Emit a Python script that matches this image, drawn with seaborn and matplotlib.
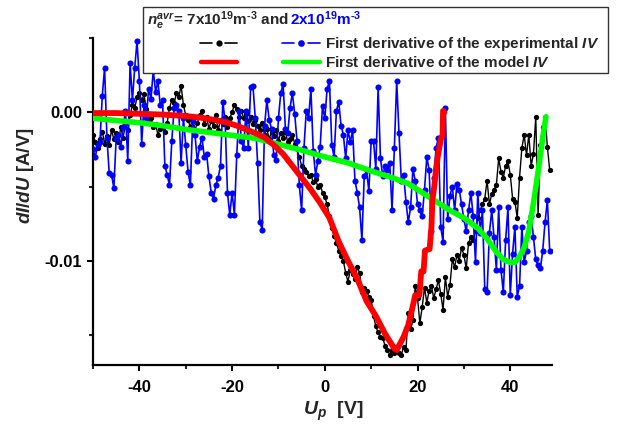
import numpy as np
import pandas as pd
import matplotlib
matplotlib.use("Agg")
import matplotlib.pyplot as plt
import seaborn as sns
from matplotlib.lines import Line2D
from matplotlib.patches import Rectangle
from matplotlib.ticker import MultipleLocator, FormatStrFormatter

# Probe voltage sweep of the measured characteristics [V]
U_exp = np.arange(-50.0, 48.75, 0.5)

# Measured first derivative, n_e = 7e19 m^-3 (units of 1e-4 A/V)
didu_black = [
    -15, -20, -24, -18, -13, -21, -16, -22, -12, -18,
    -14, -20, -10, -17, -8, -12, -2, 5, 3, 10,
    13, 8, 12, 2, -6, -4, -10, -8, -15, -11,
    -9, -13, -7, 3, 8, 6, 13, 10, 18, 5,
    -2, -5, -10, -4, -12, -7, -2, 1, -8, -3,
    -11, -6, -9, -2, -12, -5, -8, -3, -10, -4,
    0, 5, 2, -3, 1, -4, -1, -6, -3, -8,
    -5, -9, -12, -7, -15, -11, -18, -13, -16, -12,
    -19, -14, -17, -13, -20, -18, -15, -21, -25, -30,
    -36, -38, -40, -43, -42, -47, -45, -50, -49, -54,
    -57, -62, -70, -78, -83, -88, -93, -97, -100, -108,
    -114, -106, -109, -112, -104, -108, -121, -118, -120, -124,
    -126, -137, -144, -148, -151, -152, -157, -160, -163, -160,
    -162, -158, -162, -163, -158, -160, -135, -146, -140, -117,
    -125, -142, -131, -118, -128, -120, -117, -125, -119, -113,
    -122, -133, -111, -124, -116, -99, -104, -96, -100, -91,
    -96, -105, -88, -84, -86, -80, -71, -66, -62, -58,
    -46, -62, -55, -52, -49, -31, -40, -44, -36, -33,
    -42, -58, -60, -71, -44, -24, -15, -29, -15, -36,
    -28, -3, -69, -22, -10, -3, -23, -39,
]

# Measured first derivative, n_e = 2e19 m^-3 (units of 1e-4 A/V)
didu_blue = [
    -25, -30, -22, -20, 11, 30, -17, -41, -42, -51,
    -17, -15, -23, -10, 1, -33, 33, 8, 30, 48,
    21, -21, 5, -4, 16, 9, 28, 14, 21, 5,
    8, -36, -42, -49, -19, 3, 5, 1, -34, -4,
    -22, -40, -49, -6, -15, -33, -23, -17, -30, -28,
    -43, -54, -58, -49, -44, -36, 7, -6, -54, -69,
    -54, -69, -29, 1, -19, -24, 1, -24, 17, 18,
    -4, -34, -74, -79, -9, 8, -5, -11, -29, -32,
    -4, 13, 19, -11, -14, 3, 13, -1, -19, -49,
    -66, -24, 1, -4, 16, -26, -42, -33, -23, 4,
    -4, 16, 21, -22, -30, 1, 7, -9, -15, -31,
    -12, -20, -12, -46, -54, -64, -86, -43, -39, -53,
    -19, -19, -38, 17, -31, -43, -36, -39, -34, -66,
    -24, 21, -14, -46, -42, -60, -74, -64, -38, -46,
    -62, -66, -70, -52, -30, -39, -80, -44, -24, -17,
    -77, -87, 3, -72, -56, -50, -66, -48, -52, -62,
    -72, -80, -66, -54, -70, -101, -54, -81, -66, -119,
    -121, -81, -66, -84, -106, -64, -106, -121, -86, -64,
    -123, -95, -77, -124, -117, -77, -101, -93, -74, -70,
    -84, -99, -103, -105, -93, -74, -59, -93,
]

# Model derivative for n_e = 7e19 m^-3
U_red = [-50, -45, -40, -35, -30, -27, -24, -21, -19, -17, -15, -13, -11, -9,
         -7, -5, -3, -1, 1, 3, 5, 7, 9, 11, 13, 14, 15, 15.5, 16, 17, 18, 19,
         19.5, 20.4, 20.8, 21.3, 21.6, 22.6, 23.0, 23.2, 23.6, 24.0, 24.4,
         25.1, 25.4, 25.5, 25.8]
didu_red = [-0.5, -0.5, -1, -1.5, -2.5, -3.5, -5, -7, -9, -11.5, -14, -17, -22,
            -28, -36, -44, -52, -61, -71, -87, -100, -112, -127, -137, -149,
            -154, -159, -160, -157, -151, -143, -130, -123, -123, -107, -107,
            -93, -92, -77, -59, -50, -38, -29, -17, -16, 1, 0]

# Model derivative for n_e = 2e19 m^-3
U_green = [-50, -45, -40, -35, -30, -25, -20, -15, -10, -5, 0, 5, 10, 15, 18,
           21, 24, 27, 30, 33, 35, 37, 38.5, 40, 41, 42, 43, 44, 45, 46, 47,
           47.7]
didu_green = [-4, -5.5, -7, -9, -11.5, -13.5, -15.5, -17.5, -21.5, -25.5, -30,
              -34, -39.5, -44.5, -48, -54, -60, -66, -71, -78, -85, -94, -99,
              -101, -101, -97, -91, -80, -61, -40, -17, -3]

SCALE = 1e-4  # list units -> A/V
exp_black = pd.DataFrame({"U": U_exp, "dIdU": np.array(didu_black) * SCALE})
exp_blue = pd.DataFrame({"U": U_exp, "dIdU": np.array(didu_blue) * SCALE})
mod_red = pd.DataFrame({"U": U_red, "dIdU": np.array(didu_red) * SCALE})
mod_green = pd.DataFrame({"U": U_green, "dIdU": np.array(didu_green) * SCALE})

sns.set_theme(style="ticks")
plt.rcParams.update({
    "font.family": ["Liberation Sans", "DejaVu Sans"],
    "font.weight": "bold",
    "mathtext.fontset": "custom",
    "mathtext.rm": "Liberation Sans:bold",
    "mathtext.it": "Liberation Sans:italic:bold",
    "mathtext.bf": "Liberation Sans:bold",
    "axes.unicode_minus": False,
})

W, H = 625, 428
fig = plt.figure(figsize=(W / 100, H / 100), dpi=100)
ax = fig.add_axes([93 / W, 63 / H, (552 - 93) / W, (365 - 38) / H])

common = dict(ax=ax, x="U", y="dIdU", estimator=None, sort=False, legend=False)
sns.lineplot(data=exp_black, color="black", linewidth=1.0, marker="o",
             markersize=3.8, markeredgewidth=0, zorder=2, **common)
sns.lineplot(data=exp_blue, color="#0000ff", linewidth=1.2, marker="o",
             markersize=4.4, markeredgewidth=0, zorder=3, **common)
sns.lineplot(data=mod_green, color="#00ff00", linewidth=4.0, zorder=4, **common)
sns.lineplot(data=mod_red, color="#ff0000", linewidth=4.2, zorder=5, **common)

ax.set_xlim(-50, 49)
ax.set_ylim(-0.017, 0.005)
ax.xaxis.set_major_locator(MultipleLocator(20))
ax.xaxis.set_minor_locator(MultipleLocator(10))
ax.yaxis.set_major_locator(MultipleLocator(0.01))
ax.yaxis.set_minor_locator(MultipleLocator(0.005))
ax.yaxis.set_major_formatter(FormatStrFormatter("%.2f"))

for side in ("top", "right"):
    ax.spines[side].set_visible(False)
for side in ("left", "bottom"):
    ax.spines[side].set_linewidth(1.6)
    ax.spines[side].set_color("black")
ax.tick_params(which="major", direction="out", length=4, width=1.5,
               labelsize=12, colors="black")
ax.tick_params(axis="x", which="major", pad=7)
ax.tick_params(axis="y", which="major", pad=4)
ax.tick_params(which="minor", direction="out", length=3, width=1.5)
ax.set_facecolor("white")

ax.set_xlabel(r"$U_p$  [V]", fontsize=14, fontweight="bold")
ax.set_ylabel(r"$dI/dU$ [A/V]", fontsize=13.5, fontweight="bold")
ax.xaxis.set_label_coords(0.523, -0.105)
ax.yaxis.set_label_coords(-0.124, 0.578)


def fx(px):
    return px / W


def fy(py):
    return 1 - py / H


# Legend panel
fig.add_artist(Rectangle((fx(143), fy(73)), fx(608) - fx(143), (73 - 7) / H,
                         transform=fig.transFigure, facecolor="white",
                         edgecolor="#333333", linewidth=1.0, zorder=10))

t1 = fig.text(fx(147), fy(25.5), r"$n_e^{avr}$= 7x10$^{19}$m$^{\text{-}3}$ and ",
              fontsize=11, fontweight="bold", va="baseline", ha="left",
              zorder=11)
fig.canvas.draw()
bb = t1.get_window_extent()
fig.text(bb.x1 / fig.bbox.width, fy(25.5), r"2x10$^{19}$m$^{\text{-}3}$",
         color="#0000ff", fontsize=11, fontweight="bold", va="baseline",
         ha="left", zorder=11)


def glyph(xs, y, **kw):
    fig.add_artist(Line2D([fx(x) for x in xs], [fy(y)] * len(xs),
                          transform=fig.transFigure, zorder=11, **kw))


# row 1: measured series
glyph([200, 212], 43, color="black", lw=1.2)
glyph([225, 237], 43, color="black", lw=1.2)
glyph([218.5], 43, color="black", marker="o", markersize=4.5, lw=0,
      markeredgewidth=0)
glyph([282, 294], 43, color="#0000ff", lw=1.2)
glyph([308, 320], 43, color="#0000ff", lw=1.2)
glyph([301], 43, color="#0000ff", marker="o", markersize=4.8, lw=0,
      markeredgewidth=0)
# row 2: model curves
glyph([201, 237], 62, color="#ff0000", lw=3.2)
glyph([283, 320], 62, color="#00ff00", lw=3.2)

fig.text(fx(325), fy(47.7), r"First derivative of the experimental $IV$",
         fontsize=11, fontweight="bold", va="baseline", ha="left", zorder=11)
fig.text(fx(325), fy(66.7), r"First derivative of the model $IV$",
         fontsize=11, fontweight="bold", va="baseline", ha="left", zorder=11)

fig.savefig("out.png", dpi=100, facecolor="white")
